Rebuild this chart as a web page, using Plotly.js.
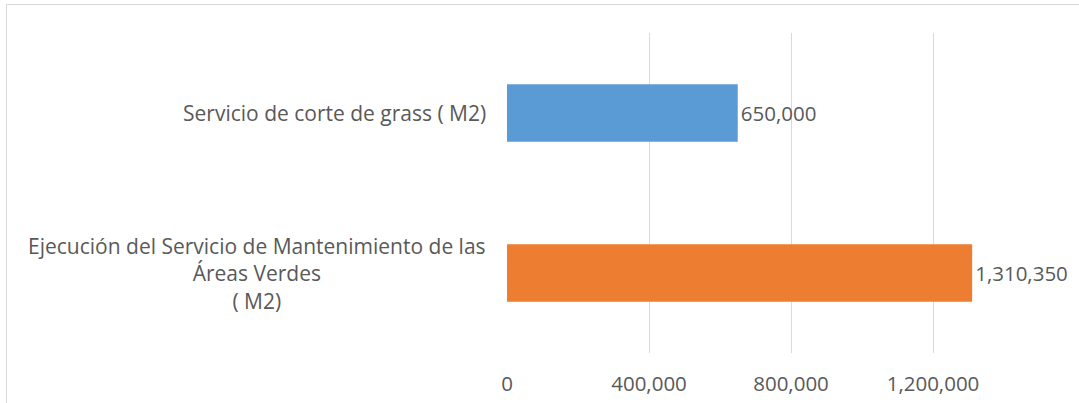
<!DOCTYPE html>
<html>
<head>
<meta charset="utf-8">
<script src="https://cdn.plot.ly/plotly-3.0.1.min.js"></script>
<style>
  html, body { margin:0; padding:0; background:#fff; }
  #wrap { position:relative; width:1079px; height:403px; overflow:hidden; }
  #frame { position:absolute; left:6px; top:4px; width:1200px; height:500px;
           border-left:1px solid #d9d9d9; border-top:1px solid #d9d9d9; pointer-events:none; }
  #chart { position:absolute; left:0; top:0; width:1079px; height:403px; }
</style>
</head>
<body>
<div id="wrap">
  <div id="chart"></div>
  <div id="frame"></div>
</div>
<script>
const categories = [
  "Servicio de corte de grass ( M2)",
  "Ejecución del Servicio de Mantenimiento de las<br>Áreas Verdes<br>( M2)"
];
const values = [650000, 1310350];
const valueLabels = ["650,000", "1,310,350"];
const tickValues = [0, 400000, 800000, 1200000];
const tickLabels = ["0", "400,000", "800,000", "1,200,000"];

const barColors = ["#5B9BD5", "#ED7D31"];
const textColor = "#595959";
const fontFam = "'Open Sans', 'Noto Sans', sans-serif";

const trace = {
  type: "bar",
  orientation: "h",
  y: categories,
  x: values,
  text: valueLabels,
  texttemplate: "%{text}",
  textposition: "outside",
  cliponaxis: false,
  textfont: { family: fontFam, size: 20.5, color: textColor },
  marker: { color: barColors },
  hoverinfo: "skip"
};

const annotations = categories.map(c => ({
  xref: "paper", yref: "y",
  x: 0, y: c,
  xanchor: "right", yanchor: "middle",
  xshift: -19,
  align: "center",
  showarrow: false,
  text: c,
  font: { family: fontFam, size: 21, color: textColor }
}));

const layout = {
  width: 1079, height: 403,
  margin: { l: 507, r: 4, t: 33, b: 50 },
  paper_bgcolor: "#ffffff",
  plot_bgcolor: "#ffffff",
  showlegend: false,
  bargap: 0.64,
  xaxis: {
    range: [0, 1600000],
    tickvals: tickValues,
    ticktext: tickLabels,
    showgrid: true,
    gridcolor: "#d9d9d9",
    gridwidth: 1,
    zeroline: false,
    showline: false,
    ticks: "",
    ticklabelstandoff: 16,
    tickfont: { family: fontFam, size: 20.5, color: textColor },
    fixedrange: true
  },
  yaxis: {
    type: "category",
    autorange: "reversed",
    showticklabels: false,
    showgrid: false,
    zeroline: false,
    showline: false,
    ticks: "",
    fixedrange: true
  },
  annotations: annotations
};

Plotly.newPlot("chart", [trace], layout, { displayModeBar: false, staticPlot: true });
</script>
</body>
</html>
